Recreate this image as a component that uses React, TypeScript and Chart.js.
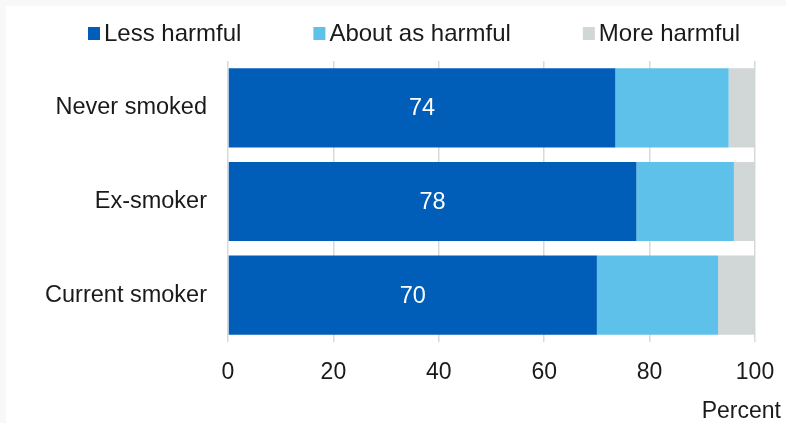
import React, { useEffect, useRef } from "react";
import { Chart, registerables } from "chart.js";

Chart.register(...registerables);

const categories = ["Never smoked", "Ex-smoker", "Current smoker"];
const seriesNames = ["Less harmful", "About as harmful", "More harmful"];
const lessHarmful = [73.5, 77.5, 70];
const aboutAsHarmful = [21.5, 18.5, 23];
const moreHarmful = [5, 4, 7];
const xTicks = [0, 20, 40, 60, 80, 100];
const axisTitle = "Percent";

const COLORS = ["#005EB8", "#5DC1E9", "#D1D6D7"];
const FONT = "'Liberation Sans', Arial, sans-serif";
const TEXT = "#1a1a1a";

const labelPlugin = {
  id: "barLabels",
  afterDatasetsDraw(chart: any) {
    const ctx = chart.ctx;
    const meta = chart.getDatasetMeta(0);
    const ds = chart.data.datasets[0];
    ctx.save();
    ctx.fillStyle = "#ffffff";
    ctx.font = `23.5px ${FONT}`;
    ctx.textAlign = "center";
    ctx.textBaseline = "middle";
    meta.data.forEach((el: any, i: number) => {
      const v = ds.data[i];
      ctx.fillText(String(Math.round(v)), (el.x + el.base) / 2, el.y + 1);
    });
    ctx.restore();
  },
};

const legendPlugin = {
  id: "customLegend",
  afterDraw(chart: any) {
    const ctx = chart.ctx;
    ctx.save();
    ctx.font = `24px ${FONT}`;
    ctx.textBaseline = "middle";
    ctx.textAlign = "left";
    let x = 82;
    chart.data.datasets.forEach((ds: any) => {
      ctx.fillStyle = ds.backgroundColor;
      ctx.fillRect(x, 21, 12, 13);
      ctx.fillStyle = TEXT;
      ctx.fillText(ds.label, x + 16, 28.5);
      x += 16 + ctx.measureText(ds.label).width + 72;
    });
    ctx.font = `23px ${FONT}`;
    ctx.textAlign = "right";
    ctx.fillText(axisTitle, chart.width - 5, 406);
    ctx.restore();
  },
};

export default function App() {
  const ref = useRef<HTMLCanvasElement>(null);
  useEffect(() => {
    if (!ref.current) return;
    const chart = new Chart(ref.current, {
      type: "bar",
      data: {
        labels: categories,
        datasets: [
          { label: seriesNames[0], data: lessHarmful, backgroundColor: COLORS[0] },
          { label: seriesNames[1], data: aboutAsHarmful, backgroundColor: COLORS[1] },
          { label: seriesNames[2], data: moreHarmful, backgroundColor: COLORS[2] },
        ],
      },
      options: {
        indexAxis: "y",
        animation: false,
        responsive: false,
        maintainAspectRatio: false,
        datasets: { bar: { categoryPercentage: 1, barPercentage: 0.846, borderWidth: 0 } },
        layout: { padding: { top: 55, right: 31, left: 0, bottom: 21 } },
        plugins: { legend: { display: false }, tooltip: { enabled: false }, title: { display: false } },
        scales: {
          x: {
            stacked: true,
            min: 0,
            max: 100,
            afterBuildTicks: (s: any) => {
              s.ticks = xTicks.map((v) => ({ value: v }));
            },
            afterFit: (s: any) => {
              s.height = 60;
              s.paddingLeft = 0;
              s.paddingRight = 0;
            },
            grid: { color: "#d9d9d9", lineWidth: 1.5, drawTicks: false },
            border: { display: false },
            ticks: { color: TEXT, font: { family: FONT, size: 23 }, padding: 17 },
          },
          y: {
            stacked: true,
            afterFit: (s: any) => {
              s.width = 222;
            },
            grid: { display: false, drawTicks: false },
            border: { display: false },
            ticks: { color: TEXT, font: { family: FONT, size: 23.5 }, padding: 21 },
          },
        },
      },
      plugins: [labelPlugin, legendPlugin],
    });
    return () => chart.destroy();
  }, []);
  return (
    <div style={{ position: "fixed", inset: 0, background: "#f8f8f8" }}>
      <div style={{ position: "absolute", left: 6, top: 6, width: 780, height: 417, background: "#ffffff" }}>
        <canvas ref={ref} width={780} height={417} style={{ display: "block" }} />
      </div>
    </div>
  );
}
